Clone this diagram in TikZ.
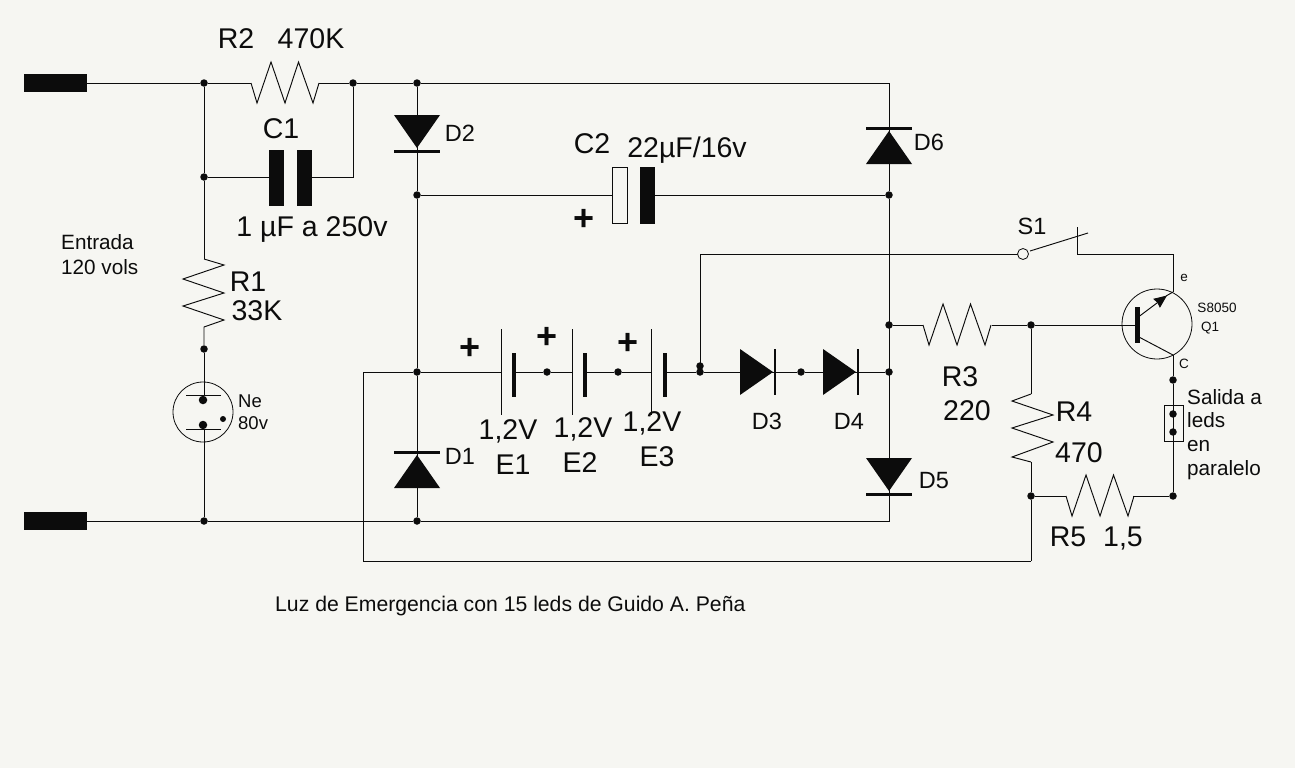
\documentclass[tikz,border=0pt]{standalone}
\usepackage{fontspec}
\setmainfont{Liberation Sans}
\usepackage{tikz}
\usetikzlibrary{arrows.meta}
\definecolor{paper}{RGB}{246,246,242}
\definecolor{ink}{RGB}{12,12,12}
\tikzstyle{wire} = [ink,line width=0.95pt]
\tikzstyle{dot} = [circle,fill=ink,inner sep=0pt,minimum size=7.5pt]
\tikzstyle{biglabel} = [ink,inner sep=0pt,text depth=0pt,font=\fontsize{28.5}{28.5}\selectfont]
\tikzstyle{midlabel} = [ink,inner sep=0pt,text depth=0pt,font=\fontsize{23.5}{23.5}\selectfont]
\tikzstyle{txtlabel} = [ink,inner sep=0pt,text height=15pt,text depth=0pt,anchor=west,font=\fontsize{20.7}{20.7}\selectfont]
\tikzstyle{captionlabel} = [ink,inner sep=0pt,text height=15pt,text depth=0pt,anchor=west,font=\fontsize{21.2}{21.2}\selectfont]
\tikzstyle{neonlabel} = [ink,inner sep=0pt,text height=13pt,text depth=0pt,anchor=west,font=\fontsize{18.5}{18.5}\selectfont]
\tikzstyle{tinylabel} = [ink,inner sep=0pt,text depth=0pt,font=\fontsize{13.5}{13.5}\selectfont]
\tikzstyle{pluslabel} = [ink,inner sep=0pt,font=\fontsize{36}{36}\selectfont\bfseries]
\newcommand{\resh}[1]{\draw[wire] (#1) -- ++(6,20) -- ++(14,-41) -- ++(14,41) -- ++(13.5,-41) -- ++(14.5,41) -- ++(6,-20);}
\newcommand{\diodeup}[1]{\fill[ink] (#1) ++(0,3) -- ++(23,33) -- ++(-46,0) -- cycle;
  \draw[ink,line width=3pt] (#1) ++(-23,0) -- ++(46,0);}
\newcommand{\dioderight}[1]{\fill[ink] (#1) ++(-2,0) -- ++(-33,23) -- ++(0,-46) -- cycle;
  \draw[ink,line width=2.4pt] (#1) ++(0,-23) -- ++(0,46);}
\begin{document}
\begin{tikzpicture}[x=1pt,y=-1pt]
\fill[paper] (0,0) rectangle (1295,768);
\useasboundingbox (0,0) rectangle (1295,768);
% terminals
\node (inA) [fill=ink,minimum width=63pt,minimum height=18pt,inner sep=0pt] at (55.5,83) {};
\node (inB) [fill=ink,minimum width=63pt,minimum height=18pt,inner sep=0pt] at (55.5,521) {};
% junctions
\node (jA) [dot] at (204,83) {};
\node (jB) [dot] at (204,177) {};
\node (jC) [dot] at (353,83) {};
\node (jD) [dot] at (417,83) {};
\node (jE) [dot] at (417,195) {};
\node (jF) [dot] at (889,195) {};
\node (jG) [dot] at (204,349) {};
\node (jH) [dot] at (204,521) {};
\node (jI) [dot] at (417,372) {};
\node (jJ) [dot] at (417,521) {};
\node (jK) [dot] at (547,372) {};
\node (jL) [dot] at (618,372) {};
\node (jM) [dot] at (700,372) {};
\node (jN) [dot] at (700,366) {};
\node (jO) [dot] at (801,372) {};
\node (jP) [dot] at (889,372) {};
\node (jQ) [dot] at (889,325) {};
\node (jR) [dot] at (1031,325) {};
\node (jS) [dot] at (1031,496) {};
\node (jT) [dot] at (1173,496) {};
\node (jU) [dot] at (1173,380) {};
\node (jV) [dot] at (1173,414) {};
\node (jW) [dot] at (1173,432) {};
% corners and ends of wires
\coordinate (topR) at (889,83);
\coordinate (botR) at (889,521);
\coordinate (loopL) at (363,372);
\coordinate (loopB) at (363,561);
\coordinate (loopR) at (1031,561);
\coordinate (capC) at (353,177);
\coordinate (r2L) at (251,83);
\coordinate (r2R) at (319,83);
\coordinate (r3L) at (923,325);
\coordinate (r3R) at (992,325);
\coordinate (r5L) at (1066,496);
\coordinate (r5R) at (1133,496);
\coordinate (c1L) at (269,177);
\coordinate (c1R) at (312,177);
\coordinate (c2L) at (612,195);
\coordinate (c2R) at (655,195);
\coordinate (e1L) at (501,372);
\coordinate (e1R) at (514,372);
\coordinate (e2L) at (572,372);
\coordinate (e2R) at (585,372);
\coordinate (e3L) at (651,372);
\coordinate (e3R) at (665,372);
\coordinate (swA) at (700,254);
\coordinate (swB) at (1077,254);
\coordinate (swC) at (1173,254);
\coordinate (base) at (1137,325);
\coordinate (qE) at (1173,292);
\coordinate (qC) at (1173,355);
\coordinate (neT) at (204,395);
\coordinate (neB) at (204,429);
\coordinate (r1T) at (204,259);
\coordinate (r4T) at (1031,394);
\coordinate (r4B) at (1031,462);
% main wires
\draw[wire] (inA) -- (jA) -- (r2L);
\draw[wire] (r2R) -- (jC) -- (jD) -- (topR) -- (jF) -- (botR) -- (jJ) -- (jH) -- (inB);
\draw[wire] (jA) -- (jB) -- (r1T);
\draw[wire] (jB) -- (c1L);
\draw[wire] (c1R) -- (capC) -- (jC);
\draw[wire] (jD) -- (jE) -- (jI) -- (jJ);
\draw[wire] (jE) -- (c2L);
\draw[wire] (c2R) -- (jF);
\draw[wire] (loopR) -- (loopB) -- (loopL) -- (jI) -- (e1L);
\draw[wire] (e1R) -- (jK) -- (e2L);
\draw[wire] (e2R) -- (jL) -- (e3L);
\draw[wire] (e3R) -- (jM) -- (jO) -- (jP);
\draw[wire] (jM) -- (swA) -- (1018,254);
\draw[wire] (swB) -- (swC) -- (qE);
\draw[wire] (jQ) -- (r3L);
\draw[wire] (r3R) -- (jR) -- (base);
\draw[wire] (jR) -- (r4T);
\draw[wire] (r4B) -- (jS) -- (loopR);
\draw[wire] (jS) -- (r5L);
\draw[wire] (r5R) -- (jT) -- (jU) -- (qC);
\draw[wire] (jG) -- (neT);
\draw[wire] (neB) -- (jH);
% resistors
\resh{r2L}
\resh{r3L}
\resh{r5L}
\draw[wire] (r1T) -- (224,265) -- (183,279) -- (224,293) -- (183,306) -- (224,320) -- (204,327) -- (jG);
\draw[wire] (r4T) -- (1012,401) -- (1053,415) -- (1012,428) -- (1053,442) -- (1012,457) -- (r4B);
% capacitors
\fill[ink] (269,150) rectangle (284,206);
\fill[ink] (297,150) rectangle (312,206);
\draw[wire,fill=paper] (612,167) rectangle (627,223);
\fill[ink] (640,167) rectangle (655,224);
% diodes
\begin{scope}[yscale=-1]
\diodeup{417,-151}
\diodeup{889,-494}
\end{scope}
\diodeup{417,452}
\diodeup{889,128}
\dioderight{775,372}
\dioderight{858,372}
% batteries
\foreach \bx in {501,572,651} {\draw[wire] (\bx,329) -- (\bx,415);}
\foreach \bx in {514,585,665} {\draw[ink,line width=3.6pt] (\bx,353) -- (\bx,397);}
% neon
\draw[wire,line width=0.8pt] (203,412) circle (30);
\draw[wire] (186,395) -- (221,395);
\draw[wire] (186,429) -- (221,429);
\node (neA) [dot,minimum size=8.5pt] at (203,400) {};
\node (neC) [dot,minimum size=8.5pt] at (203,425) {};
\node (neD) [dot,minimum size=6pt] at (223,419) {};
% switch
\node (swO) [circle,draw=ink,fill=paper,line width=0.8pt,minimum size=11pt,inner sep=0pt] at (1023,254) {};
\draw[wire] (swO) ++(7,-3) -- (1088,233);
\draw[wire] (1077,227) -- (swB);
% transistor
\draw[wire,line width=0.8pt] (1157,324) circle (35);
\draw[ink,line width=5pt] (1137,307) -- (1137,343);
\draw[wire] (1137,336) -- (qC);
\draw[wire,-{Stealth[length=13pt,width=11pt,inset=1pt]}] (1137,318) -- (1167,295.5);
\draw[wire] (1166,296) -- (qE);
% connector
\node (outB) [draw=ink,line width=0.8pt,fill=none,minimum width=19pt,minimum height=36pt,inner sep=0pt] at (1173.5,423) {};
% labels
\node (lR2) [biglabel] at (236,39) {R2};
\node (lR2v) [biglabel] at (311,39) {470K};
\node (lC1) [biglabel] at (281,129) {C1};
\node (lC1v) [biglabel] at (312,227) {1 µF a 250v};
\node (lR1) [biglabel] at (248,282) {R1};
\node (lR1v) [biglabel] at (257,311) {33K};
\node (lC2) [biglabel] at (592,144) {C2};
\node (lC2v) [biglabel] at (687,147) {22µF/16v};
\node (lE1v) [biglabel] at (508,430) {1,2V};
\node (lE1) [biglabel] at (513,465) {E1};
\node (lE2v) [biglabel] at (583,428) {1,2V};
\node (lE2) [biglabel] at (580,463) {E2};
\node (lE3v) [biglabel] at (652,422) {1,2V};
\node (lE3) [biglabel] at (657,457) {E3};
\node (lR3) [biglabel] at (960,377) {R3};
\node (lR3v) [biglabel] at (967,411) {220};
\node (lR4) [biglabel] at (1074,412) {R4};
\node (lR4v) [biglabel] at (1079,453) {470};
\node (lR5) [biglabel] at (1068,537) {R5};
\node (lR5v) [biglabel] at (1123,537) {1,5};
\node (lD1) [midlabel] at (460,456) {D1};
\node (lD2) [midlabel] at (460,133) {D2};
\node (lD3) [midlabel] at (767,421) {D3};
\node (lD4) [midlabel] at (849,421) {D4};
\node (lD5) [midlabel] at (934,480) {D5};
\node (lD6) [midlabel] at (929,142) {D6};
\node (lS1) [midlabel] at (1032,226) {S1};
\node (lIn) [txtlabel] at (61,242) {Entrada};
\node (lVolt) [txtlabel] at (61,267) {120 vols};
\node (lNe) [neonlabel] at (238,401) {Ne};
\node (lNev) [neonlabel] at (238,423) {80v};
\node (lOutA) [txtlabel] at (1187,397) {Salida a};
\node (lOutB) [txtlabel] at (1187,420) {leds};
\node (lOutC) [txtlabel] at (1187,444) {en};
\node (lOutD) [txtlabel] at (1187,468) {paralelo};
\node (lE) [tinylabel] at (1184,278) {e};
\node (lC) [tinylabel] at (1184,364) {C};
\node (lQt) [tinylabel] at (1217,308) {S8050};
\node (lQ1) [tinylabel] at (1210,327) {Q1};
\node (lPa) [pluslabel] at (470,349) {+};
\node (lPb) [pluslabel] at (547,338) {+};
\node (lPc) [pluslabel] at (628,344) {+};
\node (lPd) [pluslabel] at (584,220) {+};
\node (lCap) [captionlabel] at (275,604) {Luz de Emergencia con 15 leds de Guido A. Peña};
\end{tikzpicture}
\end{document}
